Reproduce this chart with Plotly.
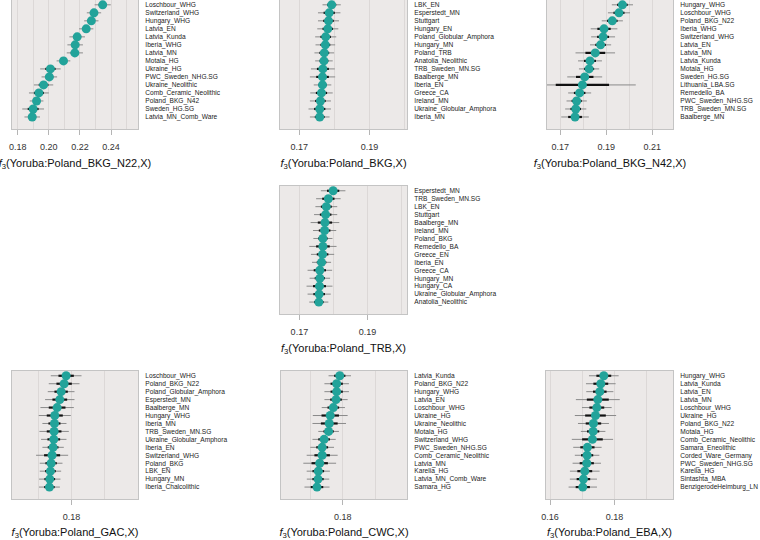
import plotly.graph_objects as go

# ---------------- data ----------------
N22_labels = ["Loschbour_WHG", "Switzerland_WHG", "Hungary_WHG", "Latvia_EN", "Latvia_Kunda",
              "Iberia_WHG", "Latvia_MN", "Motala_HG", "Ukraine_HG", "PWC_Sweden_NHG.SG",
              "Ukraine_Neolithic", "Comb_Ceramic_Neolithic", "Poland_BKG_N42", "Sweden_HG.SG",
              "Latvia_MN_Comb_Ware"]
N22_f3 = [0.2346, 0.2290, 0.2273, 0.2240, 0.2182, 0.2169, 0.2167, 0.2094, 0.2010, 0.2003,
          0.1966, 0.1936, 0.1921, 0.1899, 0.1893]
N22_se = [0.0026, 0.0023, 0.0023, 0.0023, 0.0025, 0.0025, 0.0026, 0.0022, 0.0033, 0.0025,
          0.0031, 0.0032, 0.0022, 0.0035, 0.0025]

BKG_labels = ["LBK_EN", "Esperstedt_MN", "Stuttgart", "Hungary_EN", "Poland_Globular_Amphora",
              "Hungary_MN", "Poland_TRB", "Anatolia_Neolithic", "TRB_Sweden_MN.SG", "Baalberge_MN",
              "Iberia_EN", "Greece_CA", "Ireland_MN", "Ukraine_Globular_Amphora", "Iberia_MN"]
BKG_f3 = [0.1792, 0.1785, 0.1783, 0.1781, 0.1775, 0.1774, 0.1771, 0.1770, 0.1767, 0.1766,
          0.1766, 0.1763, 0.1760, 0.1758, 0.1758]
BKG_se = [0.0013, 0.0016, 0.0015, 0.0015, 0.0015, 0.0014, 0.0014, 0.00125, 0.0017, 0.0018,
          0.00125, 0.0016, 0.0015, 0.0016, 0.0014]

N42_labels = ["Hungary_WHG", "Loschbour_WHG", "Poland_BKG_N22", "Iberia_WHG", "Switzerland_WHG",
              "Latvia_EN", "Latvia_MN", "Latvia_Kunda", "Motala_HG", "Sweden_HG.SG",
              "Lithuania_LBA.SG", "Remedello_BA", "PWC_Sweden_NHG.SG", "TRB_Sweden_MN.SG",
              "Baalberge_MN"]
N42_f3 = [0.1970, 0.1955, 0.1926, 0.1890, 0.1886, 0.1875, 0.1852, 0.1829, 0.1825, 0.1806,
          0.1796, 0.1784, 0.1771, 0.1767, 0.1764]
N42_se = [0.0023, 0.0024, 0.0023, 0.0029, 0.0026, 0.0023, 0.0043, 0.0026, 0.0022, 0.0038,
          0.0116, 0.0025, 0.0022, 0.0023, 0.0030]

TRB_labels = ["Esperstedt_MN", "TRB_Sweden_MN.SG", "LBK_EN", "Stuttgart", "Baalberge_MN",
              "Ireland_MN", "Poland_BKG", "Remedello_BA", "Greece_EN", "Iberia_EN", "Greece_CA",
              "Hungary_MN", "Hungary_CA", "Ukraine_Globular_Amphora", "Anatolia_Neolithic"]
TRB_f3 = [0.1799, 0.1785, 0.1779, 0.1777, 0.1775, 0.1774, 0.1769, 0.1769, 0.1768, 0.1765,
          0.1760, 0.1760, 0.1759, 0.1758, 0.1757]
TRB_se = [0.0018, 0.0018, 0.0016, 0.0017, 0.0021, 0.0017, 0.0014, 0.0020, 0.0017, 0.0014,
          0.0018, 0.0015, 0.0019, 0.0017, 0.0014]

GAC_labels = ["Loschbour_WHG", "Poland_BKG_N22", "Poland_Globular_Amphora", "Esperstedt_MN",
              "Baalberge_MN", "Hungary_WHG", "Iberia_MN", "TRB_Sweden_MN.SG",
              "Ukraine_Globular_Amphora", "Iberia_EN", "Switzerland_WHG", "Poland_BKG", "LBK_EN",
              "Hungary_MN", "Iberia_Chalcolithic"]
GAC_f3 = [0.17920, 0.17890, 0.17845, 0.17825, 0.17785, 0.17750, 0.17745, 0.17740, 0.17735,
          0.17725, 0.17710, 0.17695, 0.17685, 0.17675, 0.17670]
GAC_se = [0.00115, 0.00115, 0.00100, 0.00110, 0.00125, 0.00120, 0.00090, 0.00110, 0.00095,
          0.00080, 0.00120, 0.00085, 0.00080, 0.00080, 0.00078]

CWC_labels = ["Latvia_Kunda", "Poland_BKG_N22", "Hungary_WHG", "Latvia_EN", "Loschbour_WHG",
              "Ukraine_HG", "Ukraine_Neolithic", "Motala_HG", "Switzerland_WHG",
              "PWC_Sweden_NHG.SG", "Comb_Ceramic_Neolithic", "Latvia_MN", "Karelia_HG",
              "Latvia_MN_Comb_Ware", "Samara_HG"]
CWC_f3 = [0.17953, 0.17905, 0.17905, 0.17895, 0.17853, 0.17805, 0.17790, 0.17780, 0.17710,
          0.17680, 0.17680, 0.17642, 0.17620, 0.17616, 0.17600]
CWC_se = [0.00087, 0.00095, 0.00095, 0.00090, 0.00090, 0.00135, 0.00130, 0.00080, 0.00090,
          0.00092, 0.00120, 0.00127, 0.00090, 0.00087, 0.00097]

EBA_labels = ["Hungary_WHG", "Latvia_Kunda", "Latvia_EN", "Latvia_MN", "Loschbour_WHG",
              "Ukraine_HG", "Poland_BKG_N22", "Motala_HG", "Comb_Ceramic_Neolithic",
              "Samara_Eneolithic", "Corded_Ware_Germany", "PWC_Sweden_NHG.SG", "Karelia_HG",
              "Sintashta_MBA", "BenzigerodeHeimburg_LN"]
EBA_f3 = [0.17668, 0.17575, 0.17544, 0.17482, 0.17451, 0.17410, 0.17347, 0.17337, 0.17316,
          0.17160, 0.17150, 0.17140, 0.17078, 0.17036, 0.17016]
EBA_se = [0.0023, 0.0023, 0.0021, 0.0034, 0.0023, 0.0032, 0.0024, 0.0019, 0.0032, 0.0022,
          0.0019, 0.0022, 0.0023, 0.0021, 0.0022]

target_names = ["Poland_BKG_N22", "Poland_BKG", "Poland_BKG_N42", "Poland_TRB",
                "Poland_GAC", "Poland_CWC", "Poland_EBA"]

# ---------------- layout / style ----------------
W, H = 760, 540
panels = [
    # (labels, values, se, x-pixels, y-pixels, x-range, tick0, dtick)
    (N22_labels, N22_f3, N22_se, (12, 138), (0, 129), (0.1763, 0.2573), 0.18, 0.02),
    (BKG_labels, BKG_f3, BKG_se, (280, 407), (0, 129), (0.16448, 0.20067), 0.17, 0.02),
    (N42_labels, N42_f3, N42_se, (547, 673), (0, 129), (0.1642, 0.2190), 0.17, 0.02),
    (TRB_labels, TRB_f3, TRB_se, (280, 407), (186, 314), (0.16431, 0.20157), 0.17, 0.02),
    (GAC_labels, GAC_f3, GAC_se, (12, 138), (371, 499), (0.1711, 0.18995), 0.18, 0.01),
    (CWC_labels, CWC_f3, CWC_se, (281, 407), (371, 499), (0.17042, 0.18995), 0.18, 0.01),
    (EBA_labels, EBA_f3, EBA_se, (546, 673), (371, 499), (0.15876, 0.19813), 0.16, 0.02),
]

FONT = "Liberation Sans, Arial, Helvetica, sans-serif"
BG = "#ECE9E8"
GRID = "#DCD8D7"
TEAL = "#22A39A"

fig = go.Figure()
layout = {}
for i, (labels, vals, ses, xp, yp, xr, t0, dt) in enumerate(panels):
    n = i + 1
    xa = "x" if n == 1 else f"x{n}"
    ya = "y" if n == 1 else f"y{n}"
    idx = list(range(len(labels)))
    thin = [2 * s for s in ses]
    fig.add_trace(go.Scatter(x=vals, y=idx, xaxis=xa, yaxis=ya, mode="markers",
                             marker=dict(size=1, opacity=0),
                             error_x=dict(type="data", array=thin, color="#8a8a8a",
                                          thickness=1, width=0),
                             showlegend=False, hoverinfo="skip"))
    fig.add_trace(go.Scatter(x=vals, y=idx, xaxis=xa, yaxis=ya, mode="markers",
                             marker=dict(size=1, opacity=0),
                             error_x=dict(type="data", array=ses, color="#111111",
                                          thickness=2.2, width=0),
                             showlegend=False, hoverinfo="skip"))
    fig.add_trace(go.Scatter(x=vals, y=idx, xaxis=xa, yaxis=ya, mode="markers",
                             marker=dict(size=9, color=TEAL, line=dict(width=0)),
                             showlegend=False))
    xkey = "xaxis" if n == 1 else f"xaxis{n}"
    ykey = "yaxis" if n == 1 else f"yaxis{n}"
    layout[xkey] = dict(
        domain=[xp[0] / W, xp[1] / W], anchor=ya, range=list(xr), automargin=False,
        tick0=t0, dtick=dt, tickformat=".2f", showgrid=True, gridcolor=GRID, gridwidth=1,
        minor=dict(dtick=dt / 2, tick0=t0, showgrid=True, gridcolor=GRID, gridwidth=1, ticks=""),
        ticks="outside", ticklen=5, tickcolor="#b5b5b5", tickwidth=1,
        tickfont=dict(size=9, color="#333333", family=FONT), ticklabelstandoff=4,
        showline=True, mirror=True, linecolor="#c4c4c4", linewidth=1,
        zeroline=False,
        title=dict(text=f"<i>f</i><sub>3</sub>(Yoruba:{target_names[i]},X)",
                   font=dict(size=11, color="#111111", family=FONT), standoff=8),
    )
    layout[ykey] = dict(
        domain=[1 - yp[1] / H, 1 - yp[0] / H], anchor=xa, range=[15.5, -0.6], automargin=False,
        tickvals=idx, ticktext=labels, side="right", ticks="", showgrid=False,
        tickfont=dict(size=6.6, color="#222222", family=FONT), ticklabelstandoff=5,
        showline=True, mirror=True, linecolor="#c4c4c4", linewidth=1, zeroline=False,
    )

fig.update_layout(
    width=W, height=H, margin=dict(l=0, r=0, t=0, b=0, autoexpand=False),
    paper_bgcolor="white", plot_bgcolor=BG, font=dict(family=FONT),
    **layout,
)
fig.write_html("out.html", config={"displayModeBar": False},
               post_script="document.body.style.margin='0px';")
